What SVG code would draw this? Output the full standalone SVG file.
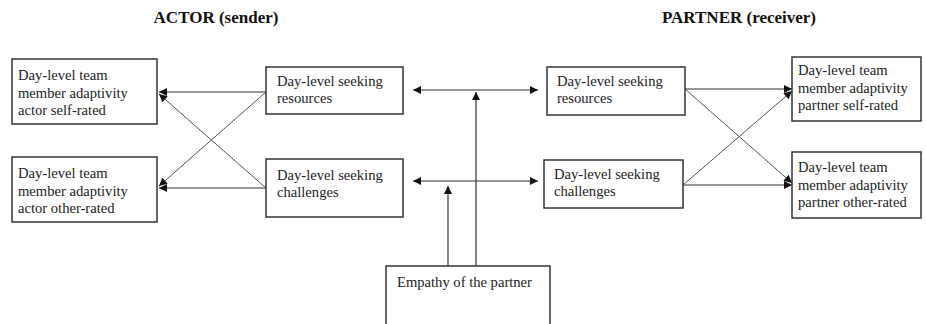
<svg xmlns="http://www.w3.org/2000/svg" width="926" height="324" viewBox="0 0 926 324">
<defs>
<marker id="ah" viewBox="0 0 10 10" refX="10" refY="5" markerWidth="9" markerHeight="8" markerUnits="userSpaceOnUse" orient="auto-start-reverse">
<path d="M0,0 L10,5 L0,10 z" fill="#111"/>
</marker>
<style>
.box{fill:#fff;stroke:#333;stroke-width:1.5}
.t{font-family:"Liberation Serif","Times New Roman",serif;font-size:14.6px;fill:#222}
.h{font-family:"Liberation Serif","Times New Roman",serif;font-size:17px;font-weight:bold;fill:#111}
.c{stroke:#333;stroke-width:1.2;fill:none}
.d{stroke:#555;stroke-width:1;fill:none}
</style>
</defs>
<rect width="926" height="324" fill="#fff"/>
<text class="h" x="216" y="23" text-anchor="middle">ACTOR (sender)</text>
<text class="h" x="739" y="23" text-anchor="middle">PARTNER (receiver)</text>

<g id="connectors">
<line class="c" x1="266" y1="92" x2="159" y2="92" marker-end="url(#ah)"/>
<line class="c" x1="266" y1="188" x2="159" y2="188" marker-end="url(#ah)"/>
<line class="d" x1="266" y1="92" x2="159" y2="186" marker-end="url(#ah)"/>
<line class="d" x1="266" y1="188" x2="159" y2="94" marker-end="url(#ah)"/>
<line class="c" x1="685" y1="89" x2="792" y2="89" marker-end="url(#ah)"/>
<line class="c" x1="683" y1="185" x2="792" y2="185" marker-end="url(#ah)"/>
<line class="d" x1="685" y1="89" x2="792" y2="183" marker-end="url(#ah)"/>
<line class="d" x1="683" y1="185" x2="792" y2="91" marker-end="url(#ah)"/>
<line class="c" x1="413" y1="90" x2="538" y2="90" marker-start="url(#ah)" marker-end="url(#ah)"/>
<line class="c" x1="413" y1="181" x2="538" y2="181" marker-start="url(#ah)" marker-end="url(#ah)"/>
<line class="c" x1="476" y1="266" x2="476" y2="92" marker-end="url(#ah)"/>
<line class="c" x1="448" y1="266" x2="448" y2="186" marker-end="url(#ah)"/>
</g>

<g id="actor-self">
<rect class="box" x="12" y="59" width="145" height="65"/>
<text class="t" x="18" y="80">Day-level team</text>
<text class="t" x="18" y="98">member adaptivity</text>
<text class="t" x="18" y="115">actor self-rated</text>
</g>
<g id="actor-other">
<rect class="box" x="12" y="157" width="145" height="65"/>
<text class="t" x="18" y="178">Day-level team</text>
<text class="t" x="18" y="196">member adaptivity</text>
<text class="t" x="18" y="213">actor other-rated</text>
</g>
<g id="actor-resources">
<rect class="box" x="266" y="67" width="137" height="47"/>
<text class="t" x="277" y="86">Day-level seeking</text>
<text class="t" x="277" y="103">resources</text>
</g>
<g id="actor-challenges">
<rect class="box" x="266" y="159" width="137" height="58"/>
<text class="t" x="277" y="180">Day-level seeking</text>
<text class="t" x="277" y="197">challenges</text>
</g>
<g id="partner-resources">
<rect class="box" x="547" y="67" width="138" height="48"/>
<text class="t" x="557" y="86">Day-level seeking</text>
<text class="t" x="557" y="103">resources</text>
</g>
<g id="partner-challenges">
<rect class="box" x="544" y="160" width="139" height="48"/>
<text class="t" x="554" y="179">Day-level seeking</text>
<text class="t" x="554" y="196">challenges</text>
</g>
<g id="partner-self">
<rect class="box" x="792" y="57" width="129" height="64"/>
<text class="t" x="798" y="75">Day-level team</text>
<text class="t" x="798" y="93">member adaptivity</text>
<text class="t" x="798" y="110">partner self-rated</text>
</g>
<g id="partner-other">
<rect class="box" x="792" y="152" width="129" height="66"/>
<text class="t" x="798" y="172">Day-level team</text>
<text class="t" x="798" y="190">member adaptivity</text>
<text class="t" x="798" y="207">partner other-rated</text>
</g>
<g id="empathy">
<rect class="box" x="386" y="266" width="164" height="70"/>
<text class="t" x="397" y="287">Empathy of the partner</text>
</g>
</svg>
